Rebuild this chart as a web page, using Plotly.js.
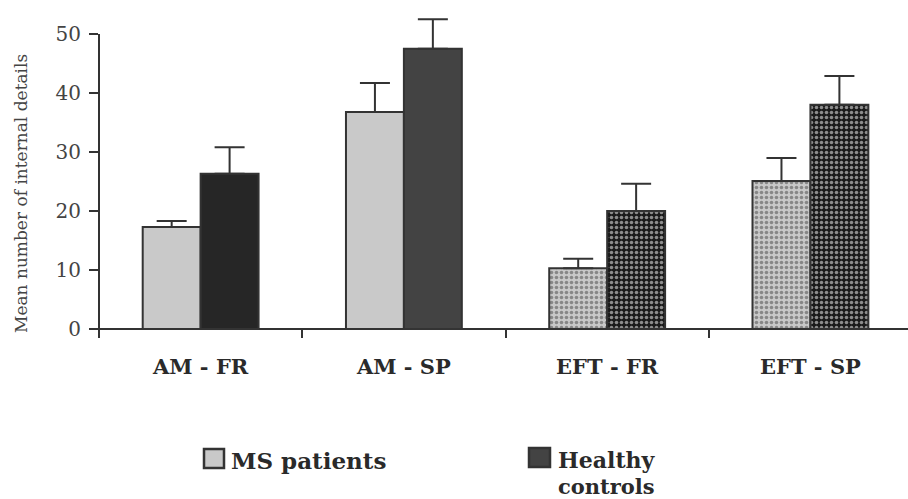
<!DOCTYPE html>
<html>
<head>
<meta charset="utf-8">
<script src="https://cdn.plot.ly/plotly-3.0.1.min.js"></script>
<style>html,body{margin:0;padding:0;background:#fff;}#chart{width:908px;height:499px;}</style>
</head>
<body>
<div id="chart"></div>
<script>
const categories = ['AM - FR', 'AM - SP', 'EFT - FR', 'EFT - SP'];
const msValues = [17.3, 36.8, 10.3, 25.1];
const msErrors = [1.0, 4.9, 1.6, 3.9];
const hcValues = [26.3, 47.5, 20.0, 38.0];
const hcErrors = [4.5, 5.0, 4.6, 4.9];
const seriesNames = ['MS patients', 'Healthy', 'controls'];
const yTicks = [0, 10, 20, 30, 40, 50];

const msColors = ['#c9c9c9', '#c9c9c9', '#c8c8c8', '#c8c8c8'];
const hcColors = ['#262626', '#434343', '#1a1a1a', '#1a1a1a'];
const msDots = ['#c9c9c9', '#c9c9c9', '#e6e6e6', '#e6e6e6'];
const hcDots = ['#434343', '#434343', '#8c8c8c', '#8c8c8c'];
const patternShapes = ['', '', '.', '.'];
const lineCol = '#333333';
const font = 'DejaVu Serif, Liberation Serif, serif';

const traces = [
  {
    type: 'bar', name: seriesNames[0], x: categories, y: msValues,
    marker: {color: msColors, line: {color: lineCol, width: 2},
      pattern: {shape: patternShapes, fillmode: 'overlay', fgcolor: msDots, size: 5, solidity: 0.4}},
    error_y: {type: 'data', array: msErrors, arrayminus: msErrors.map(() => 0), symmetric: false,
      color: lineCol, thickness: 2, width: 15},
    showlegend: false
  },
  {
    type: 'bar', name: seriesNames[1] + ' ' + seriesNames[2], x: categories, y: hcValues,
    marker: {color: hcColors, line: {color: lineCol, width: 2},
      pattern: {shape: patternShapes, fillmode: 'overlay', fgcolor: hcDots, size: 5, solidity: 0.4}},
    error_y: {type: 'data', array: hcErrors, arrayminus: hcErrors.map(() => 0), symmetric: false,
      color: lineCol, thickness: 2, width: 15},
    showlegend: false
  }
];

// helpers: pixel -> paper coords (plot area x: 99..908, y: 10..338)
const px = v => (v - 99) / 809;
const py = v => (338 - v) / 328;

const legendFont = {family: font, size: 22, color: '#2a2a2a', weight: 'bold'};

const layout = {
  width: 908, height: 499,
  margin: {l: 99, r: 0, t: 10, b: 161},
  paper_bgcolor: '#fff', plot_bgcolor: '#fff',
  barmode: 'group', bargap: 0.43, bargroupgap: 0,
  font: {family: font, color: '#333'},
  xaxis: {
    type: 'category', range: [-0.5, 3.48],
    showline: false, showgrid: false, zeroline: false,
    ticks: 'inside', tickson: 'boundaries', ticklen: 9, tickwidth: 2, tickcolor: lineCol,
    tickfont: {family: font, size: 21, color: '#2a2a2a', weight: 'bold'},
    ticklabelstandoff: 14
  },
  yaxis: {
    range: [-1.525, 54.07],
    tickvals: yTicks, ticktext: yTicks.map(String),
    showline: false, showgrid: false,
    zeroline: true, zerolinecolor: lineCol, zerolinewidth: 2,
    ticks: 'outside', ticklen: 9, tickwidth: 2, tickcolor: lineCol,
    tickfont: {family: font, size: 20, color: '#444'},
    ticklabelstandoff: 4
  },
  shapes: [
    {type: 'line', xref: 'paper', yref: 'y', x0: 0, x1: 0, y0: -1.525, y1: 50,
      line: {color: lineCol, width: 2}},
    {type: 'rect', xref: 'paper', yref: 'paper', x0: px(204), x1: px(224),
      y0: py(468), y1: py(449), fillcolor: msColors[0], line: {color: lineCol, width: 2.5}},
    {type: 'rect', xref: 'paper', yref: 'paper', x0: px(529), x1: px(550),
      y0: py(467), y1: py(448), fillcolor: hcColors[1], line: {color: lineCol, width: 2.5}}
  ],
  annotations: [
    {text: 'Mean number of internal details', xref: 'paper', yref: 'paper',
      x: px(21), y: py(194), textangle: -90, showarrow: false,
      xanchor: 'center', yanchor: 'middle',
      font: {family: font, size: 17, color: '#444'}},
    {text: seriesNames[0], xref: 'paper', yref: 'paper', x: px(230), y: py(460),
      showarrow: false, xanchor: 'left', yanchor: 'middle', borderpad: 0,
      font: Object.assign({}, legendFont, {size: 23})},
    {text: seriesNames[1], xref: 'paper', yref: 'paper', x: px(557), y: py(460),
      showarrow: false, xanchor: 'left', yanchor: 'middle', borderpad: 0,
      font: legendFont},
    {text: seriesNames[2], xref: 'paper', yref: 'paper', x: px(557), y: py(486),
      showarrow: false, xanchor: 'left', yanchor: 'middle', borderpad: 0,
      font: Object.assign({}, legendFont, {size: 21})}
  ]
};

Plotly.newPlot('chart', traces, layout, {displayModeBar: false, staticPlot: true});
</script>
</body>
</html>
